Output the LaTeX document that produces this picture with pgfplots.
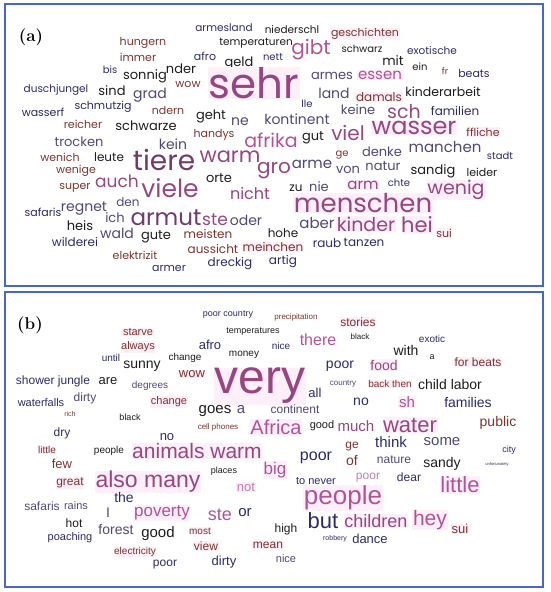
\documentclass[border=0pt]{standalone}
\usepackage{fontspec}
\usepackage{pgfplots}
\usepackage{pgfplotstable}
\pgfplotsset{compat=1.18}
\newfontfamily\pop{Poppins}
\newfontfamily\lib{Liberation Sans}

\definecolor{frame}{RGB}{72,104,196}
\definecolor{col1}{RGB}{42,42,105}   % navy
\definecolor{col2}{RGB}{78,72,122}   % grey navy
\definecolor{col3}{RGB}{28,28,28}    % black
\definecolor{col4}{RGB}{122,52,45}   % brown
\definecolor{col5}{RGB}{150,70,128}  % mauve
\definecolor{col6}{RGB}{178,82,152}  % pink
\definecolor{col7}{RGB}{112,58,108}  % dark purple
\definecolor{col8}{RGB}{190,130,170} % light mauve
\definecolor{pbg}{RGB}{254,239,248}

% word cloud (a): x, y in pixels from top left, s = font size, c = colour index, b = pink box
\pgfplotstableread[col sep=comma]{
x,y,s,c,b,w
224,28,10.5,1,0,armesland
292,30,10.5,3,0,niederschl
365,34,11,4,1,geschichten
143,43,11,4,0,hungern
256,43,10.5,3,0,temperaturen
138,57,11,4,0,immer
205,56,11,1,0,afro
273,57,10,1,0,nett
311,50,20,6,0,gibt
362,49,10,3,0,schwarz
432,51,10.5,1,0,exotische
110,70,10,1,0,bis
145,76,13,3,0,sonnig
181,69,13,3,0,nder
239,63,13,3,0,geld
393,61,13,3,0,mit
420,67,10,3,0,ein
445,71,9,4,0,fr
474,73,11,1,0,beats
188,84,11,4,0,wow
56,90,10.5,1,0,duschjungel
112,91,13,3,0,sind
150,95,14,2,0,grad
254,83,42,5,1,sehr
332,76,13,2,0,armes
380,75,15,6,1,essen
43,112,11,1,0,wasserf
103,107,11,1,0,schmutzig
168,110,11,4,0,ndern
307,104,10,1,0,lle
334,93,14,2,0,land
379,97,12,4,1,damals
443,92,12.5,3,0,kinderarbeit
83,124,11,4,0,reicher
146,126,13,3,0,schwarze
211,116,13,3,0,geht
240,122,14,2,0,ne
297,119,14,2,0,kontinent
358,110,13,2,0,keine
404,112,19,5,0,sch
455,111,12,1,0,familien
214,135,11,4,0,handys
79,142,13,2,0,trocken
173,144,14,2,0,kein
271,140,19,6,0,afrika
313,138,13,3,0,gut
348,133,20,5,0,viel
414,128,24,5,1,wasser
483,132,11,4,1,ffliche
60,157,11,4,0,wenich
109,157,12,3,0,leute
164,160,28,7,0,tiere
230,157,21,5,0,warm
342,155,10,4,0,ge
382,152,13,2,0,denke
445,147,15,2,0,manchen
500,156,10,1,0,stadt
76,171,11,4,0,wenige
117,181,17,5,0,auch
219,178,13,3,0,orte
274,171,20,5,0,gro
312,164,15,2,0,arme
348,170,13,2,0,von
383,166,13,2,0,natur
433,171,13,3,0,sandig
482,172,11,3,0,leider
75,188,11,4,0,super
170,188,25,5,0,viele
250,193,16,5,0,nicht
296,188,12,3,0,zu
319,187,13,2,0,nie
363,185,15,5,1,arm
399,183,10,1,0,chte
456,190,19,5,1,wenig
128,202,12,2,0,den
363,203,26,5,1,menschen
43,212,11,1,0,safaris
84,209,14,2,0,regnet
115,218,13,2,0,ich
166,218,23,7,0,armut
215,220,17,5,0,ste
246,220,14,2,0,oder
80,226,13,3,0,heis
117,233,14,2,0,wald
156,237,13,3,0,gute
208,234,12,4,0,meisten
283,233,12,3,0,hohe
317,223,15,2,0,aber
366,224,19,5,1,kinder
417,225,21,5,1,hei
444,233,11,4,1,sui
75,242,12,1,0,wilderei
213,249,12,4,0,aussicht
273,247,12,4,1,meinchen
327,243,12,1,0,raub
364,242,12,1,0,tanzen
135,255,11,4,0,elektrizit
169,268,11,1,0,armer
230,264,12,1,0,dreckig
283,262,12,1,0,artig
}\cloudA

% word cloud (b)
\pgfplotstableread[col sep=comma]{
x,y,s,c,b,w
228,315,9,1,0,poor country
296,317,8,4,0,precipitation
138,332,11,4,1,starve
253,332,9,3,0,temperatures
358,322,12,4,1,stories
138,347,11,4,1,always
210,345,13,1,0,afro
281,346,10,1,0,nice
318,340,16,6,0,there
360,337,8,3,0,black
432,339,10,1,0,exotic
111,358,10,1,0,until
185,358,10,3,0,change
244,355,10,3,0,money
406,350,14,3,0,with
432,357,9,3,0,a
478,362,12,4,1,for beats
142,366,14,3,0,sunny
340,366,14,1,0,poor
384,365,14,5,1,food
192,374,13,4,1,wow
53,381,12,1,0,shower jungle
108,381,13,3,0,are
150,386,10,2,0,degrees
260,386,48,5,1,very
343,384,8,2,0,country
390,384,10,4,1,back then
450,384,14,3,0,child labor
315,393,13,1,0,all
41,403,11,1,0,waterfalls
85,398,12,2,0,dirty
169,402,11,4,1,change
361,402,14,1,0,no
407,402,15,6,1,sh
468,402,14,1,0,families
70,414,7,4,0,rich
130,417,9,3,0,black
215,411,15,3,0,goes
241,410,15,2,0,a
295,409,12,2,0,continent
218,427,8,4,0,cell phones
276,427,20,6,1,Africa
322,426,11,3,0,good
356,426,15,5,0,much
410,425,22,5,1,water
498,423,14,4,0,public
62,433,12,1,0,dry
167,437,13,1,0,no
47,450,10,4,1,little
109,451,10,3,0,people
197,451,21,5,1,animals warm
352,447,12,4,0,ge
391,442,15,1,0,think
442,442,15,2,0,some
509,450,9,1,0,city
62,464,13,4,0,few
224,471,9,3,0,places
275,470,17,6,1,big
316,458,16,1,0,poor
352,460,14,4,0,of
394,460,12,2,0,nature
442,464,14,3,0,sandy
497,464,4,1,0,unfortunately
70,483,12,4,1,great
148,482,23,5,1,also many
246,487,13,8,1,not
316,481,11,1,0,to never
368,478,12,8,0,poor
409,477,12,1,0,dear
460,485,22,6,1,little
124,497,14,1,0,the
343,498,26,6,1,people
42,506,12,2,0,safaris
76,506,11,2,0,rains
108,513,14,2,0,I
162,513,17,6,1,poverty
220,515,18,6,0,ste
245,513,15,1,0,or
323,521,22,1,0,but
376,521,18,5,1,children
430,520,21,6,1,hey
460,529,13,4,1,sui
74,523,12,3,0,hot
116,529,14,2,0,forest
158,534,15,3,0,good
200,531,10,4,1,most
286,529,12,3,0,high
70,538,11,1,0,poaching
206,546,12,4,1,view
268,545,12,4,1,mean
335,539,7,1,0,robbery
370,539,13,1,0,dance
135,552,10,4,1,electricity
165,565,12,1,0,poor
224,562,13,1,0,dirty
286,559,11,2,0,nice
}\cloudB

\pgfplotsset{
  panel/.style={scale only axis, anchor=north west, y dir=reverse,
    xtick=\empty, ytick=\empty, clip=false,
    axis line style={draw=frame, line width=1.1pt}},
  cloud/.style={only marks, mark=none, point meta=explicit symbolic,
    visualization depends on={\thisrow{s}\as\wsize},
    visualization depends on={\thisrow{c}\as\wcol},
    visualization depends on={\thisrow{b}\as\wbox},
    nodes near coords={\fontsize{\wsize}{\wsize}\selectfont\pgfplotspointmeta},
    every node near coord/.append style={anchor=center, inner sep=0.6pt,
      /utils/exec={\pgfmathtruncatemacro\ci{\wcol}\pgfmathtruncatemacro\bi{\wbox}},
      text=col\ci, fill=pbg, fill opacity=\bi, text opacity=1, font=#1}},
  tag/.style={only marks, mark=none, point meta=explicit symbolic, nodes near coords,
    every node near coord/.append style={anchor=center,
      font=\bfseries\fontsize{17}{17}\selectfont}},
}

\begin{document}
\begin{tikzpicture}
\useasboundingbox (0,0) rectangle (550pt,-592pt);

% (a) German answers
\begin{axis}[panel, at={(5pt,-4pt)}, width=538pt, height=282pt,
  xmin=5, xmax=543, ymin=4, ymax=286]
  \addplot[cloud=\pop] table[x=x, y=y, meta=w] {\cloudA};
  \addplot[tag] coordinates {(31,37) [(a)]};
\end{axis}

% (b) English translation
\begin{axis}[panel, at={(5pt,-292pt)}, width=538pt, height=295pt,
  xmin=5, xmax=543, ymin=292, ymax=587]
  \addplot[cloud=\lib] table[x=x, y=y, meta=w] {\cloudB};
  \addplot[tag] coordinates {(30,325) [(b)]};
\end{axis}
\end{tikzpicture}
\end{document}
